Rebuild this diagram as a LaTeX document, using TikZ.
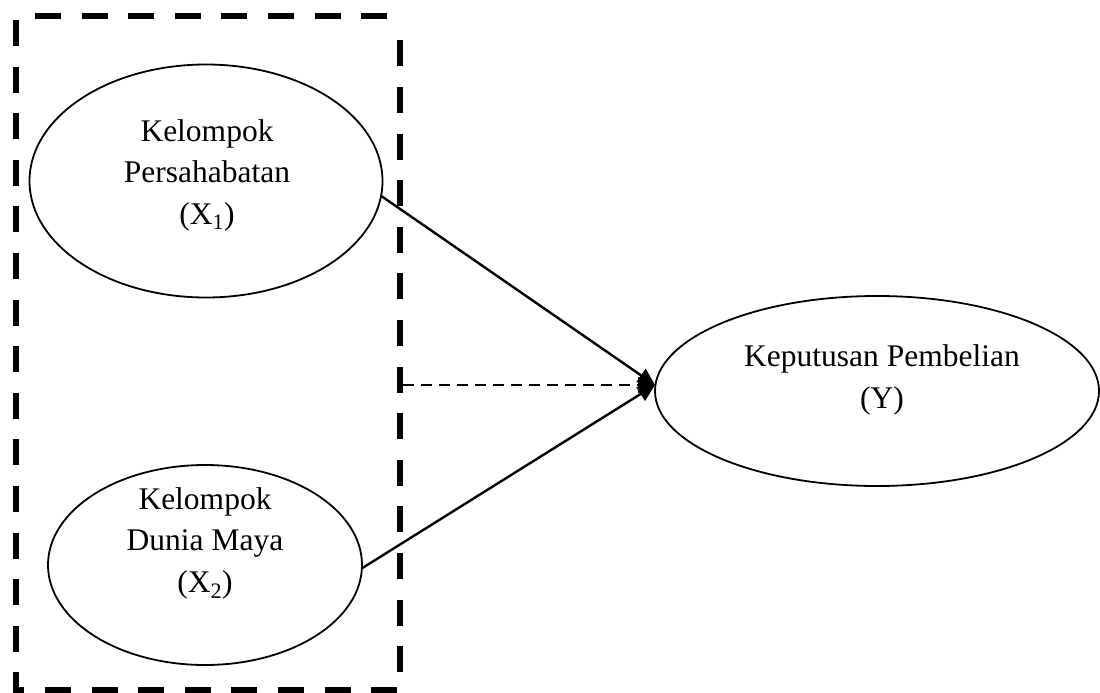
\documentclass[tikz,border=0pt]{standalone}
\usepackage{fontspec}
\setmainfont{Liberation Serif}
\usetikzlibrary{arrows.meta,shapes.geometric}

\tikzset{
  construct/.style={draw, line width=1.8pt, ellipse, inner sep=0pt},
  caption/.style={align=center, anchor=base, inner sep=0pt,
    font=\fontsize{31.5}{41.5}\selectfont},
  groupframe/.style={line width=6pt, dash pattern=on 26pt off 20.6pt, line cap=butt, line join=miter},
  path link/.style={line width=2.4pt, -{Triangle[length=17pt,width=16pt]}},
  indirect link/.style={path link, dash pattern=on 11pt off 7pt}
}

\begin{document}
\begin{tikzpicture}[x=1pt, y=1pt]
  \useasboundingbox (0,0) rectangle (1100,-693);

  % dashed frame around the two independent variables
  \draw[groupframe] (35,-16) -- (387,-16);
  \draw[groupframe] (16,-20) -- (16,-690) -- (400,-690) -- (400,-23);

  % constructs
  \node[construct, minimum width=353pt, minimum height=233pt] (x1) at (206,-181) {};
  \node[construct, minimum width=314pt, minimum height=200pt] (x2) at (205,-565) {};
  \node[construct, minimum width=444pt, minimum height=190pt] (y)  at (877,-391) {};

  % captions, placed by the baseline of their last line
  \node[caption] (x1t) at (207,-224) {Kelompok\\Persahabatan\\(X\textsubscript{1})};
  \node[caption] (x2t) at (205,-592) {Kelompok\\Dunia Maya\\(X\textsubscript{2})};
  \node[caption] (yt)  at (882,-408) {Keputusan Pembelian\\(Y)};

  % meeting point of the three paths and start of the joint path
  \coordinate (tip) at (655,-385);
  \coordinate (frameedge) at (403,-385);

  \draw[path link] (x1.-5) -- (tip);
  \draw[path link] (x2.-1) -- (tip);
  \draw[indirect link] (frameedge) -- (tip);
\end{tikzpicture}
\end{document}
